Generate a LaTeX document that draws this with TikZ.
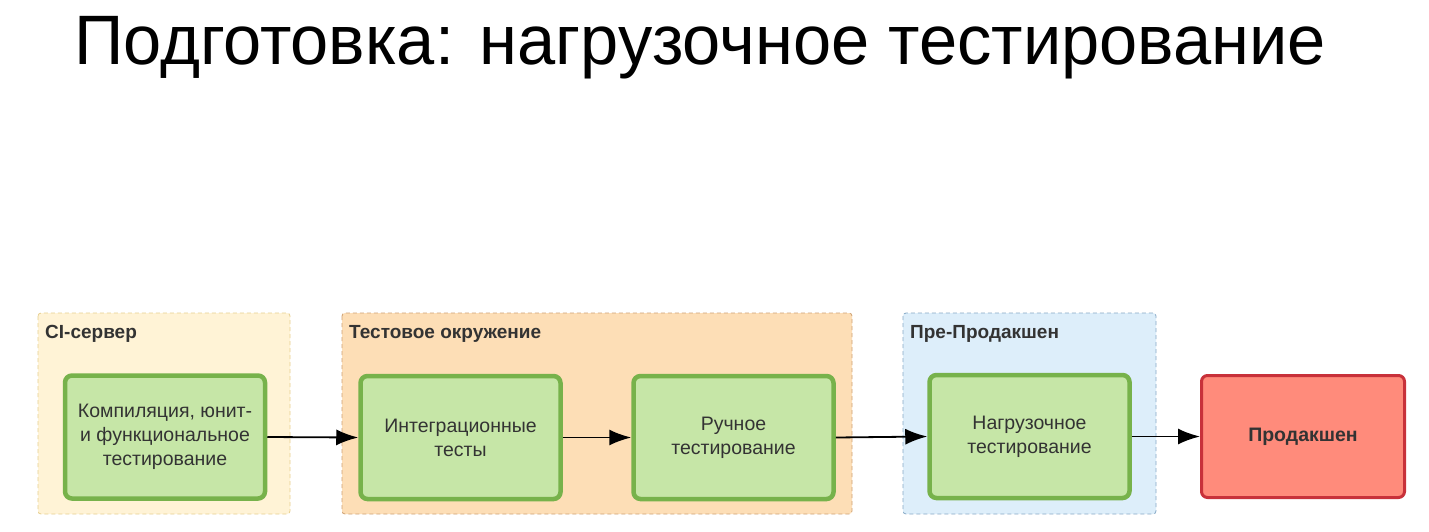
\documentclass[tikz,border=0pt]{standalone}
\usepackage{fontspec}
\setmainfont{Liberation Sans}
\usetikzlibrary{arrows.meta}
\definecolor{cifill}{HTML}{FFF3D6}
\definecolor{ciline}{HTML}{E6CF8E}
\definecolor{tefill}{HTML}{FDDEB6}
\definecolor{teline}{HTML}{CFA172}
\definecolor{ppfill}{HTML}{DDEEFA}
\definecolor{ppline}{HTML}{86A9C6}
\definecolor{gfill}{HTML}{C6E6A7}
\definecolor{gline}{HTML}{77B24B}
\definecolor{rfill}{HTML}{FF8B7B}
\definecolor{rline}{HTML}{C8313A}
\definecolor{txt}{HTML}{333333}
\tikzset{
  x=1pt, y=-1pt,
  zone/.style={draw, line width=0.8pt, rounded corners=3pt, dash pattern=on 4pt off 3pt},
  zonelabel/.style={anchor=west, font=\fontsize{19}{22}\selectfont\bfseries, text=txt, inner sep=0pt},
  stepbox/.style={draw=gline, fill=gfill, line width=4.5pt, rounded corners=7pt, minimum width=200pt, minimum height=123pt, align=center, text=txt, font=\fontsize{19.5}{24}\selectfont, inner sep=0pt},
  prodbox/.style={draw=rline, fill=rfill, line width=3pt, rounded corners=6pt, minimum width=203pt, minimum height=122pt, align=center, text=txt, font=\fontsize{19.5}{24}\selectfont\bfseries, inner sep=0pt},
  conn/.style={-{Latex[length=22pt,width=16pt]}, line width=1.8pt, black}
}
\begin{document}
\begin{tikzpicture}
\useasboundingbox (0,0) rectangle (1429,531);
\fill[white] (0,0) rectangle (1429,531);
\node[anchor=base, font=\fontsize{70}{80}\selectfont, inner sep=0pt, xscale=0.98] (title) at (700,64) {Подготовка: нагрузочное тестирование};
% zones
\draw[zone, draw=ciline, fill=cifill] (38,313) rectangle (290,514);
\draw[zone, draw=teline, fill=tefill] (342,313) rectangle (852,514);
\draw[zone, draw=ppline, fill=ppfill] (903,313) rectangle (1156,514);
\node[zonelabel] (zci) at (45,334) {CI-сервер};
\node[zonelabel] (zte) at (349,334) {Тестовое окружение};
\node[zonelabel] (zpp) at (910,334) {Пре-Продакшен};
% boxes
\node[stepbox] (a) at (165,437) {Компиляция, юнит-\\и функциональное\\тестирование};
\node[stepbox] (b) at (460.5,437.5) {Интеграционные\\тесты};
\node[stepbox] (c) at (733.5,437.5) {Ручное\\тестирование};
\node[stepbox] (d) at (1029.5,436.5) {Нагрузочное\\тестирование};
\node[prodbox] (e) at (1303,436.5) {Продакшен};
% connectors
\draw[conn] (a.east) -- (b.west);
\draw[conn] (b.east) -- (c.west);
\draw[conn] (c.east) -- (d.west);
\draw[conn] (d.east) -- (e.west);
\end{tikzpicture}
\end{document}
